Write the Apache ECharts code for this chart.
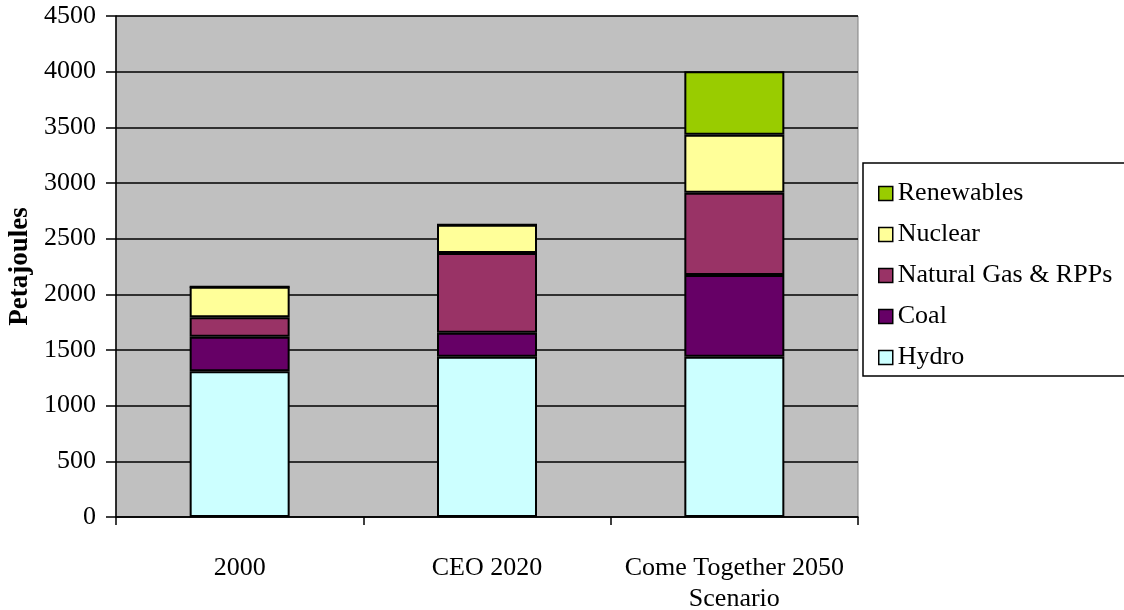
<!DOCTYPE html>
<html>
<head>
<meta charset="utf-8">
<script src="https://cdn.jsdelivr.net/npm/echarts@6/dist/echarts.min.js"></script>
<style>
html,body{margin:0;padding:0;background:#fff;}
#chart{width:1124px;height:610px;}
</style>
</head>
<body>
<div id="chart"></div>
<script>
var categories = ['2000', 'CEO 2020', 'Come Together 2050\nScenario'];
var hydro = [1310, 1440, 1440];
var coal = [308, 216, 734];
var naturalGas = [177, 715, 739];
var nuclear = [273, 255, 521];
var renewables = [0, 0, 569];
var yTicks = [0, 500, 1000, 1500, 2000, 2500, 3000, 3500, 4000, 4500];

var FONT = 'Liberation Serif, Times New Roman, serif';
var chart = echarts.init(document.getElementById('chart'), null, {renderer: 'canvas'});

function bar(name, data, color) {
  return {
    name: name,
    type: 'bar',
    stack: 'total',
    data: data,
    barWidth: 100,
    itemStyle: {color: color, borderColor: '#000', borderWidth: 2},
    emphasis: {disabled: true}
  };
}

chart.setOption({
  animation: false,
  backgroundColor: '#fff',
  grid: {
    left: 116, right: 266, top: 16, bottom: 93,
    outerBoundsMode: 'none', containLabel: false,
    show: true, backgroundColor: '#C0C0C0', borderColor: '#808080', borderWidth: 1
  },
  legend: {
    orient: 'vertical',
    left: 863, top: 163,
    data: ['Renewables', 'Nuclear', 'Natural Gas & RPPs', 'Coal', 'Hydro'],
    itemWidth: 14, itemHeight: 14, itemGap: 10,
    icon: 'rect',
    itemStyle: {borderColor: '#000', borderWidth: 1.5},
    padding: [15, 40, 3, 15],
    borderColor: '#000', borderWidth: 1.5, backgroundColor: '#fff',
    selectedMode: false,
    textStyle: {fontFamily: FONT, fontSize: 26, color: '#000', lineHeight: 28, padding: [3, 0, 0, 0]}
  },
  xAxis: {
    type: 'category',
    data: categories,
    axisLine: {lineStyle: {color: '#000', width: 1.5}},
    axisTick: {show: true, length: 8, lineStyle: {color: '#000', width: 1.5}},
    axisLabel: {fontFamily: FONT, fontSize: 26, color: '#000', margin: 36, lineHeight: 31, interval: 0}
  },
  yAxis: {
    type: 'value',
    min: 0, max: 4500, interval: 500,
    name: 'Petajoules',
    nameLocation: 'middle',
    nameGap: 73,
    nameTextStyle: {fontFamily: FONT, fontSize: 27, fontWeight: 'bold', color: '#000'},
    axisLine: {show: true, lineStyle: {color: '#000', width: 1.5}},
    axisTick: {show: true, length: 10, lineStyle: {color: '#000', width: 1.5}},
    axisLabel: {fontFamily: FONT, fontSize: 26, color: '#000', margin: 20,
      formatter: function (v) { return yTicks.indexOf(v) >= 0 ? String(v) : ''; }},
    splitLine: {show: true, lineStyle: {color: '#000', width: 1.5}}
  },
  series: [
    bar('Hydro', hydro, '#CCFFFF'),
    bar('Coal', coal, '#660066'),
    bar('Natural Gas & RPPs', naturalGas, '#993366'),
    bar('Nuclear', nuclear, '#FFFF99'),
    bar('Renewables', renewables, '#99CC00')
  ]
});
</script>
</body>
</html>
